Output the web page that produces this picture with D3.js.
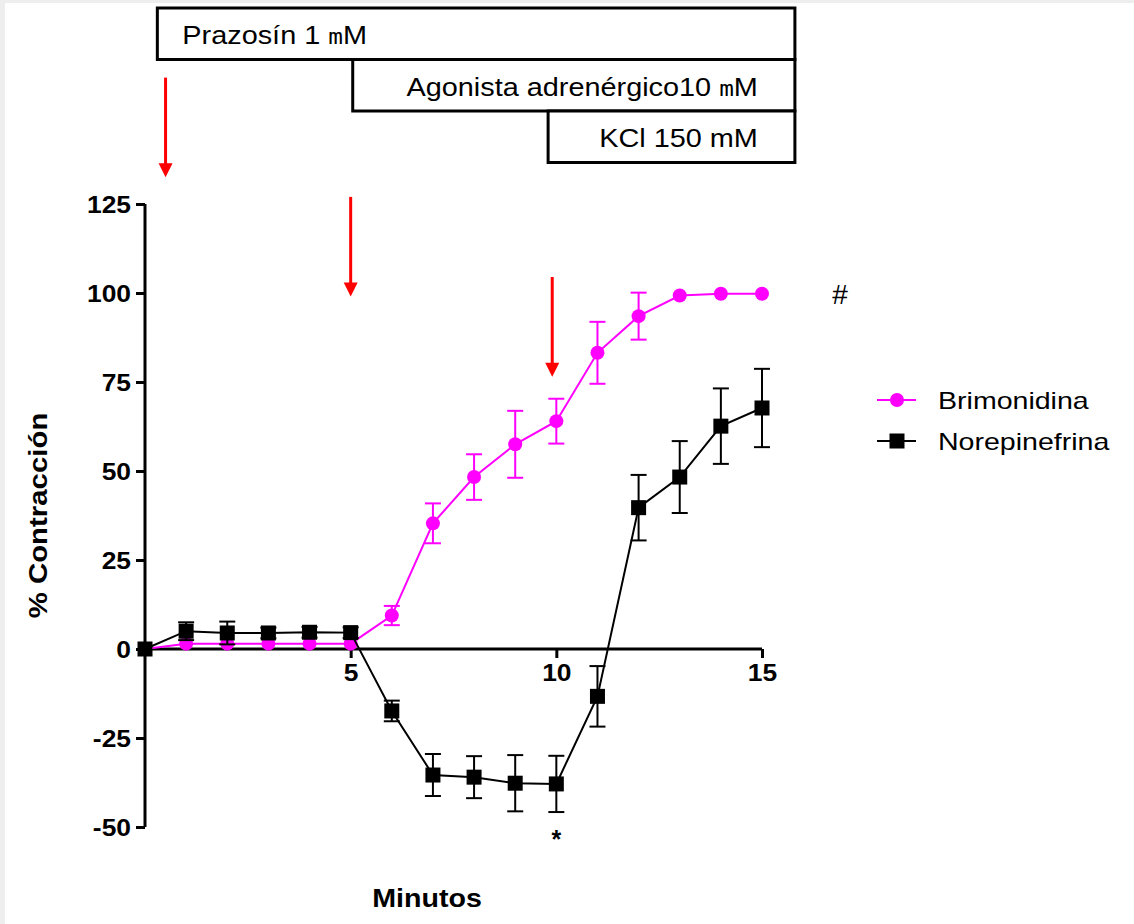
<!DOCTYPE html>
<html>
<head>
<meta charset="utf-8">
<script src="https://cdn.jsdelivr.net/npm/d3@7"></script>
<style>
  body { margin: 0; background: #fff; }
  svg { display: block; font-family: "Liberation Sans", Arial, sans-serif; }
</style>
</head>
<body>
<div id="chart"></div>
<script>
// minutes
const minutes = [0, 1, 2, 3, 4, 5, 6, 7, 8, 9, 10, 11, 12, 13, 14, 15];
// Brimonidina mean and error
const brimo = [0, 1.5, 1.5, 1.5, 1.5, 1.5, 9.4, 35.3, 48.3, 57.5, 64.0, 83.2, 93.5, 99.3, 99.8, 99.8];
const brimoErr = [0, 0, 0, 0, 0, 0, 2.7, 5.6, 6.4, 9.4, 6.3, 8.7, 6.6, 0, 0, 0];
// Norepinefrina mean and error
const norepi = [0, 5.0, 4.5, 4.5, 4.7, 4.6, -17.4, -35.4, -36.0, -37.7, -37.9, -13.3, 39.7, 48.3, 62.6, 67.7];
const norepiErr = [0, 2.5, 3.2, 1.5, 1.5, 1.5, 2.9, 5.9, 5.9, 7.9, 7.9, 8.5, 9.2, 10.1, 10.6, 11.0];

const yTicks = [125, 100, 75, 50, 25, 0, -25, -50];
const xTicks = [5, 10, 15];

// treatment bars along the top (start minute, label)
const treatments = [
  { start: 0.3, label: ["Prazosín 1 ", "m", "M"], row: 0, anchor: "start" },
  { start: 5.05, label: ["Agonista adrenérgico10 ", "m", "M"], row: 1, anchor: "end" },
  { start: 9.8, label: ["KCl 150 mM"], row: 2, anchor: "end" }
];
const treatEnd = 15.8;
// red arrows: minute and top/bottom in % units of the y scale
const arrows = [
  { x: 0.5, top: 160.5, bottom: 132.5 },
  { x: 5.0, top: 127, bottom: 99 },
  { x: 9.9, top: 104.5, bottom: 76.5 }
];

const series = [
  { name: "Brimonidina", values: brimo, err: brimoErr, color: "#ff00ff", shape: "circle" },
  { name: "Norepinefrina", values: norepi, err: norepiErr, color: "#000000", shape: "square" }
];

const width = 1134, height = 924;
const svg = d3.select("#chart").append("svg")
  .attr("width", width)
  .attr("height", height);

svg.append("rect").attr("x", 0).attr("y", 0).attr("width", width).attr("height", 3).attr("fill", "#eeeeee");
svg.append("rect").attr("x", 0).attr("y", 0).attr("width", 5).attr("height", height).attr("fill", "#eeeeee");

const x = d3.scaleLinear().domain([0, 15]).range([145, 762]);
const y = d3.scaleLinear().domain([-50, 125]).range([827, 204]);

// text in the reference is a bit wider than the font, stretch it
function label(px, py, str, size, sx, opts = {}) {
  const t = svg.append("text")
    .attr("transform", `translate(${px},${py})${opts.rotate ? " rotate(-90)" : ""} scale(${sx},1)`)
    .attr("text-anchor", opts.anchor || "start")
    .style("font-size", size + "px")
    .attr("fill", "#000");
  if (opts.bold) t.style("font-weight", "bold");
  if (str !== null) t.text(str);
  return t;
}

// axes
const xAxis = svg.append("g")
  .attr("transform", `translate(0,${y(0)})`)
  .call(d3.axisBottom(x).tickValues(xTicks).tickSize(9).tickFormat(d => d));
const yAxis = svg.append("g")
  .attr("transform", `translate(${x(0)},0)`)
  .call(d3.axisLeft(y).tickValues(yTicks).tickSize(9).tickFormat(d => String(d)));

[xAxis, yAxis].forEach(a => {
  a.select(".domain").attr("stroke", "#000").attr("stroke-width", 3);
  a.selectAll(".tick line").attr("stroke", "#000").attr("stroke-width", 3);
  a.selectAll(".tick text")
    .attr("fill", "#000")
    .style("font-size", "24px")
    .style("font-weight", "bold")
    .style("font-family", "'Liberation Sans', Arial, sans-serif");
});
// domains should be plain lines without end ticks
xAxis.select(".domain").attr("d", `M${x(0)},0H${x(15)}`);
yAxis.select(".domain").attr("d", `M0,${y(125)}V${y(-50)}`);
yAxis.selectAll(".tick text")
  .attr("x", null).attr("dy", "0.36em")
  .attr("transform", "translate(-14,0) scale(1.1,1)");
xAxis.selectAll(".tick text")
  .attr("y", null).attr("dy", "0.72em")
  .attr("transform", "translate(0,15) scale(1.1,1)");

// series
series.forEach(s => {
  const pts = minutes.map((m, i) => ({ m, v: s.values[i], e: s.err[i] }));
  const g = svg.append("g");

  const bars = g.selectAll(".err").data(pts.filter(d => d.e > 0)).join("g");
  bars.append("line")
    .attr("x1", d => x(d.m)).attr("x2", d => x(d.m))
    .attr("y1", d => y(d.v - d.e)).attr("y2", d => y(d.v + d.e))
    .attr("stroke", s.color).attr("stroke-width", 2);
  [-1, 1].forEach(sign => {
    bars.append("line")
      .attr("x1", d => x(d.m) - 8).attr("x2", d => x(d.m) + 8)
      .attr("y1", d => y(d.v + sign * d.e)).attr("y2", d => y(d.v + sign * d.e))
      .attr("stroke", s.color).attr("stroke-width", 2);
  });

  g.append("path")
    .datum(pts)
    .attr("fill", "none")
    .attr("stroke", s.color)
    .attr("stroke-width", 2)
    .attr("d", d3.line().x(d => x(d.m)).y(d => y(d.v)));

  if (s.shape === "circle") {
    g.selectAll("circle").data(pts).join("circle")
      .attr("cx", d => x(d.m)).attr("cy", d => y(d.v)).attr("r", 7)
      .attr("fill", s.color);
  } else {
    g.selectAll("rect").data(pts).join("rect")
      .attr("x", d => x(d.m) - 7.5).attr("y", d => y(d.v) - 7.5)
      .attr("width", 15).attr("height", 15)
      .attr("fill", s.color);
  }
});

// treatment boxes
const rowH = 51.5, top0 = 8;
treatments.forEach(t => {
  const x0 = x(t.start), x1 = x(treatEnd);
  const yy = top0 + t.row * rowH;
  svg.append("rect")
    .attr("x", x0).attr("y", yy)
    .attr("width", x1 - x0).attr("height", rowH)
    .attr("fill", "#fff").attr("stroke", "#000").attr("stroke-width", 3);
  const txt = label(t.anchor === "start" ? x0 + 25 : x1 - 37, yy + 36, null, 26, 1.11, { anchor: t.anchor });
  t.label.forEach((part, i) => {
    const ts = txt.append("tspan").text(part);
    if (part === "m" && i === 1) ts.style("font-family", "'DejaVu Sans Mono', monospace").style("font-size", "22px");
  });
});

// red arrows
arrows.forEach(a => {
  const ax = x(a.x), yTop = y(a.top), yBot = y(a.bottom);
  svg.append("line")
    .attr("x1", ax).attr("x2", ax)
    .attr("y1", yTop).attr("y2", yBot - 12)
    .attr("stroke", "#ff0000").attr("stroke-width", 3);
  svg.append("path")
    .attr("d", `M${ax - 7},${yBot - 14}L${ax + 7},${yBot - 14}L${ax},${yBot}Z`)
    .attr("fill", "#ff0000");
});

// significance marks
label(840, y(100) + 11, "#", 28, 1, { anchor: "middle" });
label(x(10), y(-50) + 21, "*", 25, 1, { anchor: "middle", bold: true });

// axis titles
label(47, (y(125) + y(-50)) / 2, "% Contracción", 26, 1.13, { anchor: "middle", bold: true, rotate: true });
label(427, 907, "Minutos", 26, 1.1, { anchor: "middle", bold: true });

// legend
const legend = svg.append("g").attr("transform", "translate(877,400)");
series.forEach((s, i) => {
  const row = legend.append("g").attr("transform", `translate(0,${i * 41})`);
  row.append("line").attr("x1", 0).attr("x2", 39).attr("y1", 0).attr("y2", 0)
    .attr("stroke", s.color).attr("stroke-width", 2);
  if (s.shape === "circle") {
    row.append("circle").attr("cx", 20).attr("cy", 0).attr("r", 7).attr("fill", s.color);
  } else {
    row.append("rect").attr("x", 12.5).attr("y", -7.5).attr("width", 15).attr("height", 15).attr("fill", s.color);
  }
  row.append("text").attr("transform", "translate(61,9) scale(1.19,1)")
    .style("font-size", "24px").text(s.name);
});
</script>
</body>
</html>
